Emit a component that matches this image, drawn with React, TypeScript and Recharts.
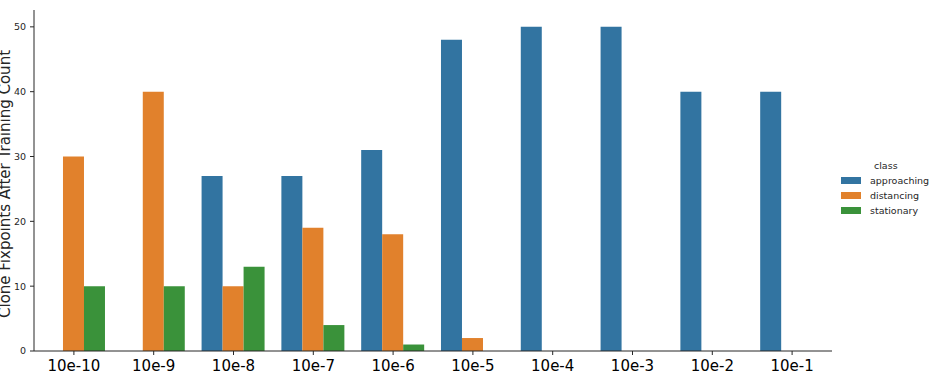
import { Bar, BarChart, Label, Legend, XAxis, YAxis } from "recharts"

const noiseLevels = ["10e-10", "10e-9", "10e-8", "10e-7", "10e-6", "10e-5", "10e-4", "10e-3", "10e-2", "10e-1"]
const approaching = [0, 0, 27, 27, 31, 48, 50, 50, 40, 40]
const distancing = [30, 40, 10, 19, 18, 2, 0, 0, 0, 0]
const stationary = [10, 10, 13, 4, 1, 0, 0, 0, 0, 0]
const yTicks = [0, 10, 20, 30, 40, 50]

const series = [
  { key: "approaching", color: "#3274a1" },
  { key: "distancing", color: "#e1812c" },
  { key: "stationary", color: "#3a923a" },
]

const data = noiseLevels.map((level, i) => ({
  level,
  approaching: approaching[i],
  distancing: distancing[i],
  stationary: stationary[i],
}))

const FONT = "'DejaVu Sans', sans-serif"
const AXIS = "#262626"

function ClassLegend() {
  return (
    <div style={{ fontFamily: FONT, fontSize: 9.5, color: AXIS, lineHeight: "15px" }}>
      <div style={{ paddingLeft: 33 }}>class</div>
      {series.map((s) => (
        <div key={s.key} style={{ display: "flex", alignItems: "center" }}>
          <span style={{ display: "inline-block", width: 20, height: 7, background: s.color, marginRight: 9 }} />
          {s.key}
        </div>
      ))}
    </div>
  )
}

function YTitle() {
  return (
    <text x={10} y={184} transform="rotate(-90, 10, 184)" textAnchor="middle" fontSize={15} fontFamily={FONT} fill={AXIS}>
      Clone Fixpoints After Training Count
    </text>
  )
}

export default function App() {
  return (
    <div style={{ position: "absolute", left: 0, top: 0 }}>
      <BarChart
        width={940}
        height={379}
        data={data}
        margin={{ top: 10, right: 8, bottom: 0, left: 0 }}
        barCategoryGap="10%"
        barGap={0}
      >
        <XAxis
          dataKey="level"
          height={28}
          tickSize={4}
          tickMargin={5}
          stroke={AXIS}
          tick={{ fill: "#000", fontSize: 15, fontFamily: FONT }}
        >
          <Label value="Noise level" position="bottom" offset={10} fontSize={15} fontFamily={FONT} fill={AXIS} />
        </XAxis>
        <YAxis
          width={34}
          domain={[0, 52.6]}
          ticks={yTicks}
          tickSize={4}
          tickMargin={4}
          stroke={AXIS}
          tick={{ fill: AXIS, fontSize: 9.5, fontFamily: FONT }}
        >
          <Label content={() => <YTitle />} />
        </YAxis>
        <Legend
          layout="vertical"
          align="right"
          verticalAlign="middle"
          width={100}
          content={() => <ClassLegend />}
          wrapperStyle={{ position: "absolute", left: 841, top: 158, width: 100 }}
        />
        {series.map((s) => (
          <Bar key={s.key} dataKey={s.key} fill={s.color} isAnimationActive={false} />
        ))}
      </BarChart>
    </div>
  )
}
